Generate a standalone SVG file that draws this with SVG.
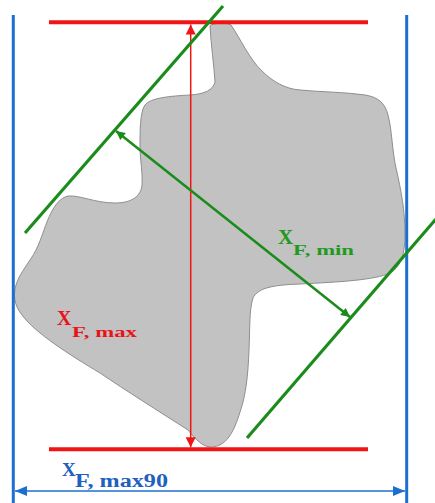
<svg xmlns="http://www.w3.org/2000/svg" width="435" height="503" viewBox="0 0 435 503">
<defs>
<style>
.red{stroke:#f01414;fill:none}
.grn{stroke:#1b8c1b;fill:none}
.blu{stroke:#1c6fd1;fill:none}
.lbl{font-family:"Liberation Serif","Times New Roman",serif;font-weight:bold}
</style>
<marker id="mr" viewBox="0 0 10 10" refX="10" refY="5" markerWidth="11" markerHeight="10" markerUnits="userSpaceOnUse" orient="auto-start-reverse"><path d="M0,0 L10,5 L0,10 z" fill="#f01414"/></marker>
<marker id="mg" viewBox="0 0 10 10" refX="10" refY="5" markerWidth="10" markerHeight="9" markerUnits="userSpaceOnUse" orient="auto-start-reverse"><path d="M0,0 L10,5 L0,10 z" fill="#1b8c1b"/></marker>
<marker id="mb" viewBox="0 0 12 10" refX="12" refY="5" markerWidth="12" markerHeight="10" markerUnits="userSpaceOnUse" orient="auto-start-reverse"><path d="M0,0 L12,5 L0,10 z" fill="#1c6fd1"/></marker>
</defs>
<rect width="435" height="503" fill="#ffffff"/>
<g id="particle">
<path d="M210,26 C212,23 226,22 231,25 C240,38 250,60 262,71 C272,81 285,89 300,90 C320,92 345,92 365,95 C378,97 385,103 388,115 C392,130 392,150 396,168 C401,190 405,210 405,235 C405,255 400,268 390,273 C375,280 340,282 300,284 C272,285 258,288 253,298 C249,310 250,330 249,350 C248,375 246,395 240,412 C234,432 226,447 211,447 C203,447 196,440 188,430 C160,412 125,390 100,373 C70,355 35,333 22,315 C14,305 13,295 16,285 C20,272 30,262 36,250 C42,238 46,222 51,213 C55,205 60,198 68,196 C80,195 95,203 115,203 C132,203 141,196 142,185 C143,173 140,160 140,148 C140,130 140,112 145,105 C150,98 170,96 190,95 C205,94 213,90 215,82 C214,65 211,45 210,26 Z" fill="#c2c2c2" stroke="#8e8e8e" stroke-width="1"/>
</g>
<g id="connectors">
<line class="blu" x1="13.3" y1="15" x2="13.3" y2="503" stroke-width="3"/>
<line class="blu" x1="406.7" y1="15" x2="406.7" y2="503" stroke-width="3"/>
<line class="red" x1="49" y1="22.3" x2="368" y2="22.3" stroke-width="4"/>
<line class="red" x1="49" y1="449.3" x2="368" y2="449.3" stroke-width="4"/>
<line class="red" x1="190.7" y1="24.5" x2="190.7" y2="447.3" stroke-width="1.5" marker-start="url(#mr)" marker-end="url(#mr)"/>
<line class="grn" x1="223" y1="6" x2="25" y2="233" stroke-width="3.2"/>
<line class="grn" x1="436" y1="219" x2="247" y2="438" stroke-width="3.2"/>
<line class="grn" x1="116" y1="131" x2="350" y2="317" stroke-width="2.5" marker-start="url(#mg)" marker-end="url(#mg)"/>
<line class="blu" x1="15" y1="491" x2="405" y2="491" stroke-width="1.6" marker-start="url(#mb)" marker-end="url(#mb)"/>
</g>
<g id="labels" class="lbl">
<text x="278" y="244" font-size="21" fill="#1f9a1f">X</text>
<text x="293" y="255" font-size="15" fill="#1f9a1f" textLength="61" lengthAdjust="spacingAndGlyphs">F, min</text>
<text x="57" y="325" font-size="20" fill="#e8141c">X</text>
<text x="72" y="337" font-size="15" fill="#e8141c" textLength="65" lengthAdjust="spacingAndGlyphs">F, max</text>
<text x="62" y="476" font-size="19" fill="#2060c0">X</text>
<text x="75" y="486.5" font-size="18" fill="#2060c0" textLength="93" lengthAdjust="spacingAndGlyphs">F, max90</text>
</g>
</svg>
